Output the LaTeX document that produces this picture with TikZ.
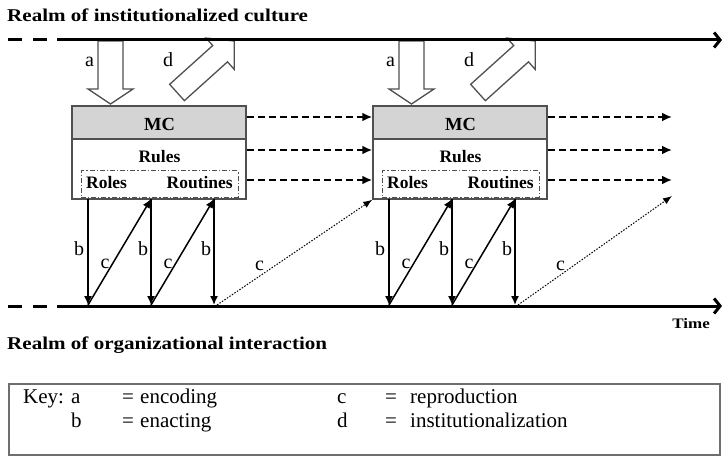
\documentclass[tikz,border=0pt]{standalone}
\usepackage{fontspec}
\setmainfont{Liberation Serif}
\newfontfamily\widebold[FakeStretch=1.17]{Liberation Serif}
\usetikzlibrary{arrows.meta}

\definecolor{boxline}{HTML}{505050}
\definecolor{mcgray}{HTML}{D4D4D4}
\definecolor{keyline}{HTML}{6E6E6E}

\begin{document}
\begin{tikzpicture}[x=1pt,y=-1pt,
  realm/.style={line width=3pt,line cap=butt},
  realmlabel/.style={font=\fontsize{18}{20}\selectfont\widebold\bfseries,inner sep=0pt,anchor=base west},
  timelabel/.style={font=\fontsize{14.5}{16}\selectfont\widebold\bfseries,inner sep=0pt,anchor=base east},
  mcbox/.style={draw=boxline,fill=mcgray,line width=1.5pt,minimum width=174pt,minimum height=33pt,inner sep=0pt},
  rulebox/.style={draw=boxline,fill=white,line width=1.5pt,minimum width=174pt,minimum height=60pt,inner sep=0pt},
  rolebox/.style={draw=boxline,line width=1pt,dash pattern=on 5pt off 2pt on 1.2pt off 2pt,minimum width=157pt,minimum height=26pt,inner sep=0pt},
  boxtext/.style={font=\fontsize{17.5}{19}\selectfont\bfseries,inner sep=0pt,anchor=base},
  mctext/.style={font=\fontsize{18.5}{20}\selectfont\bfseries,inner sep=0pt,anchor=base},
  letter/.style={font=\fontsize{20}{22}\selectfont,inner sep=0pt,anchor=base},
  keytext/.style={font=\fontsize{21}{23}\selectfont,inner sep=0pt,anchor=base west},
  blockarrow/.style={draw=boxline,fill=white,line width=1.3pt,line join=miter},
  enact/.style={line width=1.5pt,-{Latex[length=9pt,width=8pt]}},
  carry/.style={line width=2pt,dash pattern=on 7pt off 4pt,-{Latex[length=10pt,width=9pt]}},
  repro/.style={line width=1pt,dash pattern=on 1.5pt off 1.5pt,-{Latex[length=9pt,width=7pt]}},
]
\useasboundingbox (0,0) rectangle (722,457);

% ---------- block arrows a (encoding) and d (institutionalization) ----------
\foreach \o in {0,301} {
  \begin{scope}[shift={(110.5+\o,41)},rotate=-90]
    \draw[blockarrow] (0,-12.5) -- (48,-12.5) -- (48,-22.5) -- (63,0)
      -- (48,22.5) -- (48,12.5) -- (0,12.5) -- cycle;
  \end{scope}
  \begin{scope}[shift={(177+\o,92.5)},rotate=42]
    \draw[blockarrow] (0,-11) -- (58,-11) -- (58,-21) -- (77,0)
      -- (58,21) -- (58,11) -- (0,11) -- cycle;
  \end{scope}
}

% ---------- the two realms ----------
\coordinate (cs) at (8,40);
\coordinate (cm) at (57,40);
\coordinate (ce) at (722,40);
\coordinate (os) at (8,306);
\coordinate (om) at (57,306);
\coordinate (oe) at (722,306);
\draw[realm,dash pattern=on 14pt off 11pt] (cs) -- (cm);
\draw[realm,-{Straight Barb[length=6pt,width=15pt]}] (cm) -- (ce);
\draw[realm,dash pattern=on 14pt off 11pt] (os) -- (om);
\draw[realm,-{Straight Barb[length=6pt,width=15pt]}] (om) -- (oe);

\node[realmlabel] (culture) at (7,21.5) {Realm of institutionalized culture};
\node[realmlabel] (interaction) at (7,349) {Realm of organizational interaction};
\node[timelabel] (time) at (710,328) {Time};

% ---------- MC boxes with rules, roles and routines ----------
\foreach \o/\k in {0/1,301/2} {
  \node[rulebox] (rb\k) at (159+\o,169) {};
  \node[mcbox] (mc\k) at (159+\o,122.5) {};
  \node[mctext] (mct\k) at (159.5+\o,131) {MC};
  \node[boxtext] (rules\k) at (159.5+\o,163) {Rules};
  \node[rolebox] (rr\k) at (159.5+\o,184) {};
  \node[boxtext,anchor=base west] (roles\k) at (86+\o,188) {Roles};
  \node[boxtext,anchor=base east] (routines\k) at (233+\o,188) {Routines};

  \node[letter] (la\k) at (89.5+\o,67) {a};
  \node[letter] (ld\k) at (168+\o,67) {d};

  % enacting (b) and reproduction (c) between box and interaction
  \coordinate (up\k-1) at (88+\o,199);
  \coordinate (up\k-2) at (151+\o,199);
  \coordinate (up\k-3) at (214+\o,199);
  \coordinate (dn\k-1) at (88+\o,305);
  \coordinate (dn\k-2) at (151+\o,305);
  \coordinate (dn\k-3) at (214+\o,305);
  \draw[enact] (up\k-1) -- (dn\k-1);
  \draw[enact] (up\k-2) -- (dn\k-2);
  \draw[enact] (up\k-3) -- (dn\k-3);
  \draw[enact] (dn\k-1) -- (up\k-2);
  \draw[enact] (dn\k-2) -- (up\k-3);

  \node[letter] (lb\k-1) at (79+\o,255) {b};
  \node[letter] (lb\k-2) at (143+\o,255) {b};
  \node[letter] (lb\k-3) at (206+\o,255) {b};
  \node[letter] (lc\k-1) at (105+\o,268) {c};
  \node[letter] (lc\k-2) at (168+\o,268) {c};
  \node[letter] (lc\k-3) at (259.5+\o,270) {c};
}

% ---------- carrying forward through time ----------
\draw[carry] ([yshift=5.5pt]mc1.east) -- ([yshift=5.5pt]mc2.west);
\draw[carry] ([yshift=19pt]rb1.east) -- ([yshift=19pt]rb2.west);
\draw[carry] ([yshift=-11pt]rb1.east) -- ([yshift=-11pt]rb2.west);
\coordinate (fwd1) at (672,117);
\coordinate (fwd2) at (672,150);
\coordinate (fwd3) at (672,180);
\draw[carry] ([yshift=5.5pt]mc2.east) -- (fwd1);
\draw[carry] ([yshift=19pt]rb2.east) -- (fwd2);
\draw[carry] ([yshift=-11pt]rb2.east) -- (fwd3);

% reproduction toward the next period
\coordinate (rep1) at (217,305);
\coordinate (rep2) at (518,305);
\coordinate (nxt2) at (672,196);
\draw[repro] (rep1) -- (rb2.south west);
\draw[repro] (rep2) -- (nxt2);

% ---------- key ----------
\node[draw=keyline,line width=1.5pt,minimum width=711pt,minimum height=71pt,inner sep=0pt] (key) at (364.5,419.5) {};
\node[keytext] (k1) at (23,403) {Key: a};
\node[keytext] (k1e) at (122,403) {=};
\node[keytext] (k1t) at (140,403) {encoding};
\node[keytext] (k2) at (71,427) {b};
\node[keytext] (k2e) at (122,427) {=};
\node[keytext] (k2t) at (140,427) {enacting};
\node[keytext] (k3) at (337,403) {c};
\node[keytext] (k3e) at (385,403) {=};
\node[keytext] (k3t) at (410,403) {reproduction};
\node[keytext] (k4) at (337,427) {d};
\node[keytext] (k4e) at (385,427) {=};
\node[keytext] (k4t) at (410,427) {institutionalization};
\end{tikzpicture}
\end{document}
